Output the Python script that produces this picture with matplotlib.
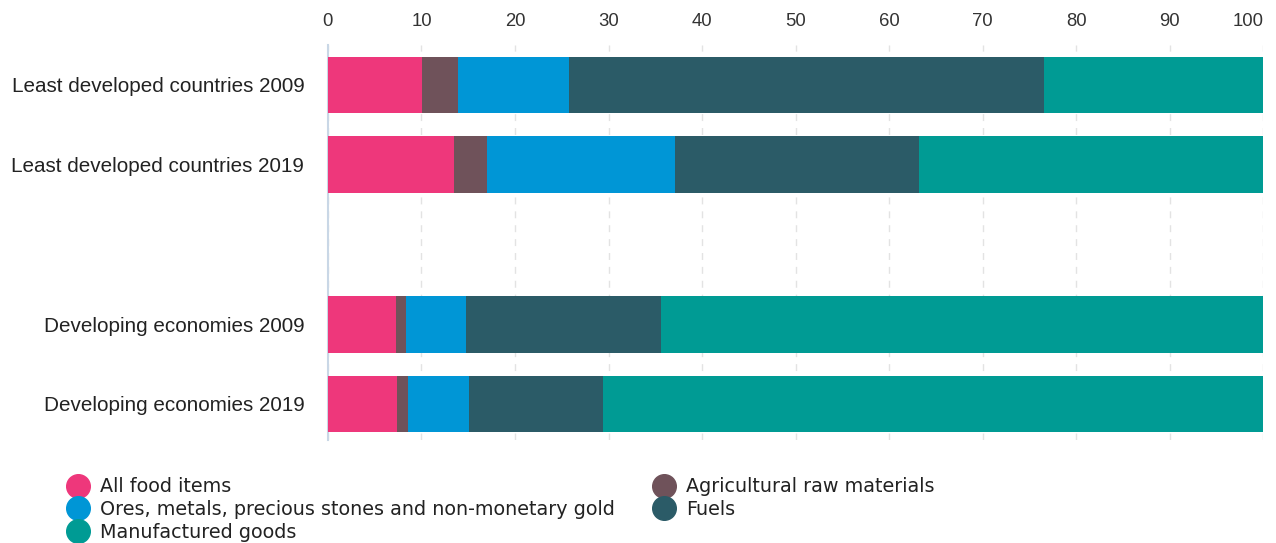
import matplotlib.pyplot as plt
from matplotlib.lines import Line2D
import numpy as np

# data
groups = ['Least developed countries 2009', 'Least developed countries 2019',
          'Developing economies 2009', 'Developing economies 2019']
series = ['All food items', 'Agricultural raw materials',
          'Ores, metals, precious stones and non-monetary gold', 'Fuels', 'Manufactured goods']
food = [10.1, 13.5, 7.25, 7.4]
agri = [3.8, 3.5, 1.1, 1.15]
ores = [11.9, 20.1, 6.45, 6.55]
fuels = [50.8, 26.1, 20.8, 14.3]
manuf = [23.4, 36.8, 64.4, 70.6]

colors = ['#EE377B', '#6F525A', '#0096D6', '#2B5B67', '#009B94']

plt.rcParams['font.family'] = ['DejaVu Sans']

fig = plt.figure(figsize=(12.76, 5.43), dpi=100)
ax = fig.add_axes([0.257, 0.19, 0.733, 0.727])

pos = np.array([0, 1, 3, 4])
left = np.zeros(4)
for vals, col in zip([food, agri, ores, fuels, manuf], colors):
    ax.barh(pos, vals, left=left, height=0.71, color=col, edgecolor='none', zorder=3)
    left = left + np.array(vals)

ax.set_xlim(0, 100)
ax.set_ylim(4.45, -0.5)
ax.set_xticks(range(0, 101, 10))
ax.xaxis.tick_top()
ax.tick_params(axis='x', length=0, pad=11, labelsize=13.3, labelcolor='#333333')
for lab in ax.get_xticklabels():
    lab.set_fontfamily('Liberation Sans')
ax.get_xticklabels()[-1].set_horizontalalignment('right')
ax.set_yticks(pos)
ax.set_yticklabels(groups, fontfamily='Liberation Sans', fontsize=14.9)
ax.tick_params(axis='y', length=0, pad=17, labelcolor='#222222')
ax.grid(axis='x', color='#e3e3e3', linestyle=(0, (5, 5)), linewidth=1, zorder=0)
for s in ['top', 'right', 'bottom']:
    ax.spines[s].set_visible(False)
ax.spines['left'].set_color('#c9d7e6')
ax.spines['left'].set_linewidth(1.5)

order = [0, 2, 4, 1, 3]
handles = [Line2D([], [], marker='o', linestyle='', markersize=17, color=colors[i]) for i in order]
labels = [series[i] for i in order]
fig.legend(handles, labels, ncol=2, loc='upper left', bbox_to_anchor=(0.046, 0.135),
           frameon=False, fontsize=13.75, handletextpad=0.55, labelspacing=0.2,
           columnspacing=2.0, borderaxespad=0, handlelength=1.2, labelcolor='#222222')

fig.savefig('out.png', dpi=100)
